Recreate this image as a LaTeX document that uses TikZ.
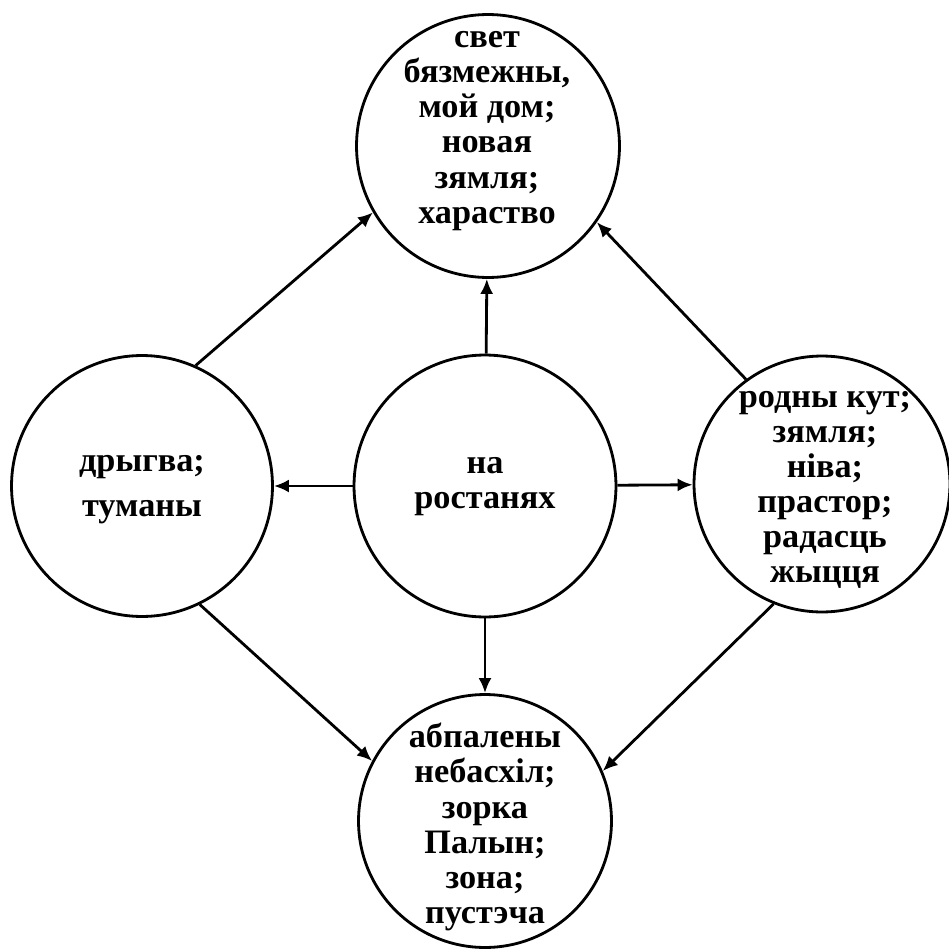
\documentclass[tikz,border=0pt]{standalone}
\usepackage{fontspec}
\setmainfont{Liberation Serif}
\usetikzlibrary{arrows.meta}
\tikzset{
  ring/.style={circle,draw,line width=1.6pt,inner sep=0pt},
  txt/.style={align=center,inner sep=0pt,font=\fontsize{19.5}{20}\selectfont\bfseries},
  arr/.style={line width=1.6pt,-{Latex[length=3mm,width=2.6mm]}}
}
\begin{document}
\begin{tikzpicture}[x=0.02cm,y=-0.02cm]
  \useasboundingbox (0,0) rectangle (949,950);
  \node[ring,minimum size=5.26cm] (svet) at (488,146) {};
  \node[ring,minimum size=5.24cm] (rost) at (485,486) {};
  \node[ring,minimum size=5.22cm] (dryg) at (142,486) {};
  \node[ring,minimum size=5.12cm] (rodn) at (822,484) {};
  \node[ring,minimum size=5.06cm] (abpal) at (485,821) {};

  \node[txt] (svett) at (487,131) {свет\\бязмежны,\\мой дом;\\новая\\зямля;\\хараство};
  \node[txt] (rostt) at (485,487) {на\\ростанях};
  \node[txt,font=\fontsize{19.5}{25.5}\selectfont\bfseries] (drygt) at (142,490) {дрыгва;\\туманы};
  \node[txt] (rodnt) at (825,490) {родны кут;\\зямля;\\ніва;\\прастор;\\радасць\\жыцця};
  \node[txt] (abpalt) at (485,827) {абпалены\\небасхіл;\\зорка\\Палын;\\зона;\\пустэча};

  \draw[arr] (rost) -- (svet);
  \draw[arr] (rost) -- (dryg);
  \draw[arr] (rost) -- (rodn);
  \draw[arr] (rost) -- (abpal);
  \draw[arr] (dryg.66) -- (svet.210);
  \draw[arr] (rodn.126) -- (svet.-35);
  \draw[arr] (dryg.-64) -- (abpal.152);
  \draw[arr] (rodn.248) -- (abpal.23);
\end{tikzpicture}
\end{document}
